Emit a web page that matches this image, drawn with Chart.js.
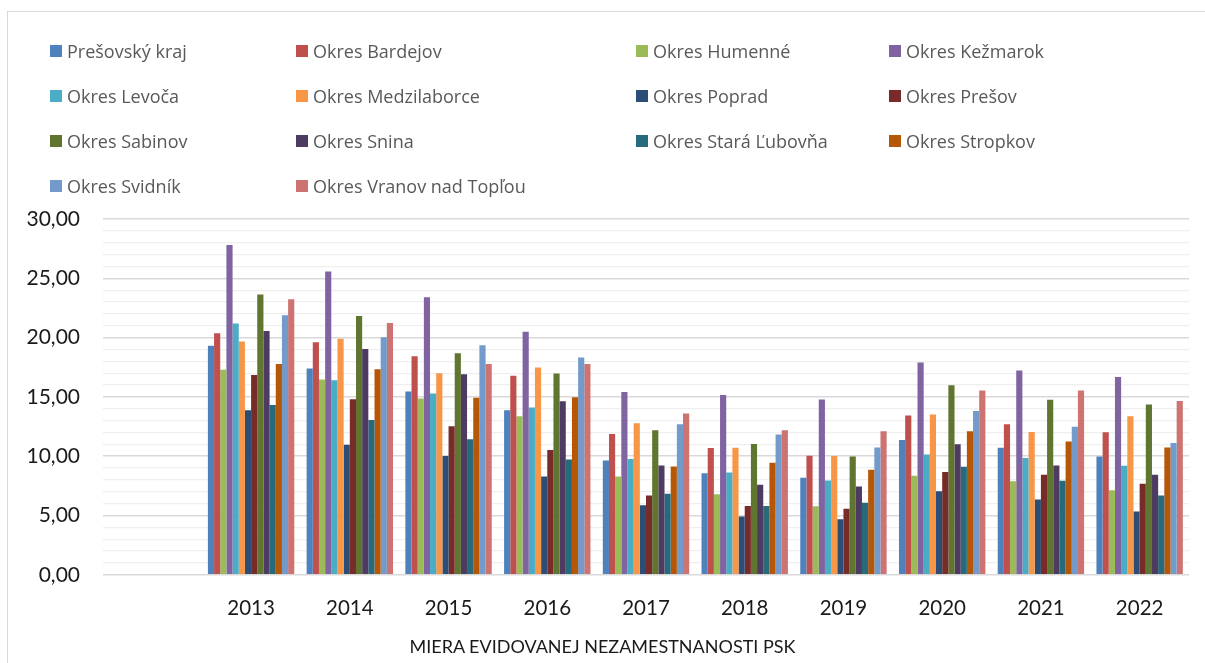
<!DOCTYPE html>
<html>
<head>
<meta charset="utf-8">
<script src="https://cdn.jsdelivr.net/npm/chart.js@4.4.1/dist/chart.umd.min.js"></script>
<style>
    html, body { margin: 0; padding: 0; background: #fff; overflow: hidden; }
    #wrap { position: relative; width: 1205px; height: 663px; }
    #frame { position: absolute; left: 7px; top: 11px; width: 1210px; height: 670px; border: 1px solid #d9d9d9; box-sizing: border-box; }
    #myBarChart { position: absolute; left: 0; top: 0; }
    #legend { position: absolute; left: 50px; top: 38px; display: grid; grid-template-columns: 246px 340px 253px 253px; grid-auto-rows: 45px; }
    .lg-item { display: flex; align-items: center; height: 25px; font-family: "Open Sans", sans-serif; font-size: 18px; color: #595959; white-space: nowrap; }
    .lg-box { width: 12px; height: 12px; margin-right: 5px; flex: none; }
    #title { position: absolute; left: 0; width: 1205px; top: 634px; text-align: center; font-family: Lato, sans-serif; font-size: 18px; line-height: 24px; color: #1a1a1a; }
</style>
</head>
<body>
<div id="wrap">
    <div id="frame"></div>
    <canvas id="myBarChart" width="1205" height="663"></canvas>
    <div id="legend"></div>
    <div id="title">MIERA EVIDOVANEJ NEZAMESTNANOSTI PSK</div>
</div>
<script>
// roky
var years = ["2013", "2014", "2015", "2016", "2017", "2018", "2019", "2020", "2021", "2022"];

// miera evidovanej nezamestnanosti (%)
var presovskyKraj = [19.32, 17.40, 15.45, 13.87, 9.64, 8.57, 8.18, 11.36, 10.72, 9.98];
var bardejov      = [20.36, 19.60, 18.42, 16.78, 11.87, 10.69, 10.04, 13.43, 12.69, 12.01];
var humenne       = [17.29, 16.47, 14.86, 13.37, 8.29, 6.80, 5.78, 8.35, 7.89, 7.13];
var kezmarok      = [27.81, 25.58, 23.41, 20.50, 15.42, 15.17, 14.78, 17.91, 17.23, 16.67];
var levoca        = [21.18, 16.41, 15.29, 14.10, 9.76, 8.63, 7.95, 10.15, 9.84, 9.20];
var medzilaborce  = [19.68, 19.91, 17.00, 17.48, 12.77, 10.72, 10.01, 13.51, 12.04, 13.37];
var poprad        = [13.87, 10.97, 10.01, 8.29, 5.86, 4.91, 4.68, 7.05, 6.35, 5.33];
var presov        = [16.84, 14.81, 12.52, 10.52, 6.68, 5.81, 5.56, 8.66, 8.43, 7.67];
var sabinov       = [23.63, 21.83, 18.67, 16.98, 12.18, 11.02, 9.98, 15.99, 14.75, 14.36];
var snina         = [20.56, 19.04, 16.92, 14.64, 9.22, 7.59, 7.44, 11.00, 9.22, 8.43];
var staraLubovna  = [14.32, 13.06, 11.42, 9.73, 6.83, 5.81, 6.07, 9.11, 7.93, 6.68];
var stropkov      = [17.77, 17.34, 14.92, 14.97, 9.14, 9.45, 8.86, 12.10, 11.25, 10.74];
var svidnik       = [21.88, 20.02, 19.35, 18.33, 12.69, 11.82, 10.74, 13.82, 12.49, 11.11];
var vranov        = [23.24, 21.24, 17.77, 17.77, 13.59, 12.18, 12.10, 15.54, 15.54, 14.66];

var seriesNames = ["Prešovský kraj", "Okres Bardejov", "Okres Humenné", "Okres Kežmarok",
    "Okres Levoča", "Okres Medzilaborce", "Okres Poprad", "Okres Prešov",
    "Okres Sabinov", "Okres Snina", "Okres Stará Ľubovňa", "Okres Stropkov",
    "Okres Svidník", "Okres Vranov nad Topľou"];
var seriesValues = [presovskyKraj, bardejov, humenne, kezmarok, levoca, medzilaborce, poprad,
    presov, sabinov, snina, staraLubovna, stropkov, svidnik, vranov];
var seriesColors = ["#4F81BD", "#C0504D", "#9BBB59", "#8064A2", "#4BACC6", "#F79646", "#2C4D75",
    "#772C2A", "#5F7530", "#4D3B62", "#276A7C", "#B65708", "#729ACA", "#CD7371"];

var yTickLabels = ["0,00", "5,00", "10,00", "15,00", "20,00", "25,00", "30,00"];

// prva kategoria je prazdna (ako v povodnom grafe)
var labels = [""].concat(years);

var datasets = seriesNames.map(function(name, i) {
    return {
        label: name,
        data: [null].concat(seriesValues[i]),
        backgroundColor: seriesColors[i],
        borderWidth: 0
    };
});

var ctx = document.getElementById("myBarChart");
var myBarChart = new Chart(ctx.getContext('2d'), {
    type: 'bar',
    data: { labels: labels, datasets: datasets },
    options: {
        responsive: false,
        animation: false,
        layout: {
            padding: { left: 14, right: 16, top: 219, bottom: 29.6 }
        },
        datasets: {
            bar: { categoryPercentage: 0.875, barPercentage: 1.0 }
        },
        scales: {
            x: {
                grid: { display: false },
                border: { display: false },
                ticks: {
                    padding: 13,
                    color: "#1a1a1a",
                    font: { family: "Lato", size: 20.5 },
                    maxRotation: 0,
                    autoSkip: false
                }
            },
            y: {
                min: 0,
                max: 30,
                afterFit: function(scale) { scale.width = 89; },
                border: { display: false },
                ticks: {
                    stepSize: 1,
                    autoSkip: false,
                    maxTicksLimit: 40,
                    padding: 23,
                    color: "#1a1a1a",
                    font: { family: "Lato", size: 21 },
                    callback: function(value) {
                        return value % 5 === 0 ? yTickLabels[value / 5] : '';
                    }
                },
                grid: {
                    drawTicks: false,
                    color: function(c) { return c.tick && c.tick.value % 5 === 0 ? "#d9d9d9" : "#efefef"; },
                    lineWidth: function(c) { return c.tick && c.tick.value % 5 === 0 ? 1.5 : 1.2; }
                }
            }
        },
        plugins: {
            legend: { display: false },
            tooltip: { enabled: false }
        }
    }
});

// legenda v 4 stlpcoch
var legendEl = document.getElementById("legend");
myBarChart.data.datasets.forEach(function(ds) {
    var item = document.createElement("div");
    item.className = "lg-item";
    var box = document.createElement("span");
    box.className = "lg-box";
    box.style.background = ds.backgroundColor;
    var txt = document.createElement("span");
    txt.textContent = ds.label;
    item.appendChild(box);
    item.appendChild(txt);
    legendEl.appendChild(item);
});
</script>
</body>
</html>
